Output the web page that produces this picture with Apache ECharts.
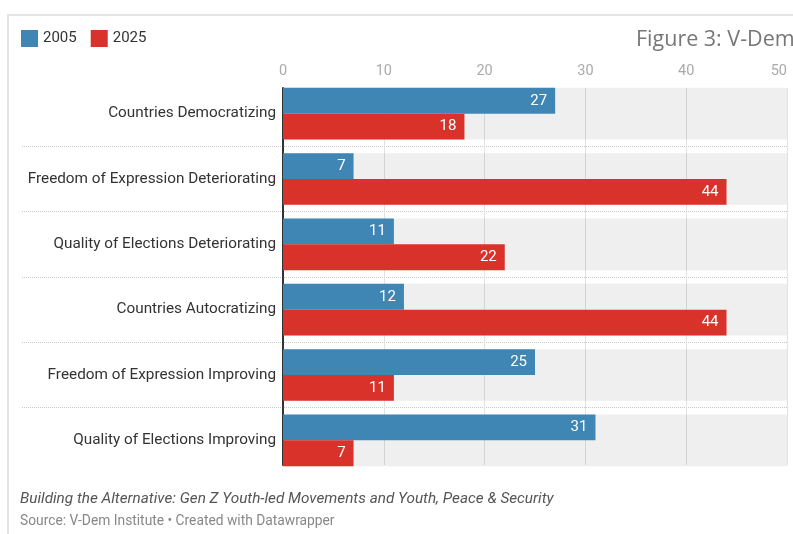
<!DOCTYPE html>
<html><head><meta charset="utf-8">
<script src="https://cdn.jsdelivr.net/npm/echarts@6/dist/echarts.min.js"></script>
<style>html,body{margin:0;padding:0;background:#fff}#c{width:793px;height:534px}</style>
</head><body><div id="c"></div>
<script>
const categories = ["Countries Democratizing","Freedom of Expression Deteriorating","Quality of Elections Deteriorating","Countries Autocratizing","Freedom of Expression Improving","Quality of Elections Improving"];
const values2005 = [27,7,11,12,25,31];
const values2025 = [18,44,22,44,11,7];
const seriesNames = ["2005","2025"];
const xTicks = {min:0,max:50,interval:10};

const chart = echarts.init(document.getElementById('c'), null, {renderer:'canvas'});
const F = 'Roboto, "Noto Sans", sans-serif';
const mkBar = (name, data, color) => ({
  name, type:'bar', data, xAxisIndex:0, yAxisIndex:0,
  barGap:'0%', barCategoryGap:'21%',
  itemStyle:{color},
  showBackground:true,
  backgroundStyle:{color:'rgba(0,0,0,0.063)'},
  label:{show:true, position:'insideRight', distance:8, color:'#fff', fontSize:15, fontFamily:F},
  emphasis:{disabled:true}
});
chart.setOption({
  animation:false,
  textStyle:{fontFamily:F},
  title:[
    {text:'Figure 3: V-Dem', left:636, top:29, padding:0, textStyle:{fontFamily:'"Open Sans", sans-serif', fontSize:21.5, fontWeight:'normal', color:'#777'}},
    {text:'Building the Alternative: Gen Z Youth-led Movements and Youth, Peace & Security', left:20, top:492, padding:0, textStyle:{fontFamily:F, fontSize:15.3, fontStyle:'italic', fontWeight:'normal', color:'#555'}},
    {text:'Source: V-Dem Institute • Created with Datawrapper', left:20, top:515, padding:0, textStyle:{fontFamily:F, fontSize:13.8, fontWeight:'normal', color:'#888'}}
  ],
  graphic:[{type:'rect', shape:{x:8,y:15,width:900,height:700}, style:{fill:'none', stroke:'#e8e3e3', lineWidth:2}, silent:true}],
  legend:{left:21, top:30, padding:0, itemWidth:17, itemHeight:17, itemGap:14, icon:'rect',
    textStyle:{fontSize:15, color:'#333', fontFamily:F}, data:seriesNames},
  grid:[
    {left:283, right:6, top:81, height:392},
    {left:22, right:6, top:81, height:392},
    {left:283, right:6, top:88, height:377}
  ],
  xAxis:[
    {gridIndex:0, type:'value', min:xTicks.min, max:xTicks.max, interval:xTicks.interval, show:false},
    {gridIndex:1, type:'value', min:0, max:1, show:false},
    {gridIndex:2, type:'value', position:'top', min:xTicks.min, max:xTicks.max, interval:xTicks.interval,
      axisLine:{show:false}, axisTick:{show:false},
      axisLabel:{color:'#aaa', fontSize:14.5, margin:9, fontFamily:F, alignMaxLabel:'right'},
      splitLine:{show:true, lineStyle:{color:'#e2e2e2', width:1}}}
  ],
  yAxis:[
    {gridIndex:0, type:'category', data:categories, inverse:true,
      axisLine:{show:false}, axisTick:{show:false}, splitLine:{show:false},
      axisLabel:{color:'#333', fontSize:15.3, margin:7, fontFamily:F}},
    {gridIndex:1, type:'category', data:categories, inverse:true,
      axisLine:{show:false}, axisTick:{show:false}, axisLabel:{show:false},
      splitLine:{show:true, showMinLine:false, showMaxLine:false, lineStyle:{color:'#c8c8c8', type:'dotted', width:1}}},
    {gridIndex:2, type:'category', data:categories, inverse:true,
      axisLine:{show:true, lineStyle:{color:'#333', width:2}}, axisTick:{show:false}, axisLabel:{show:false}, splitLine:{show:false}}
  ],
  series:[
    mkBar(seriesNames[0], values2005, '#4086b4'),
    mkBar(seriesNames[1], values2025, '#d8322a')
  ]
});
</script></body></html>
